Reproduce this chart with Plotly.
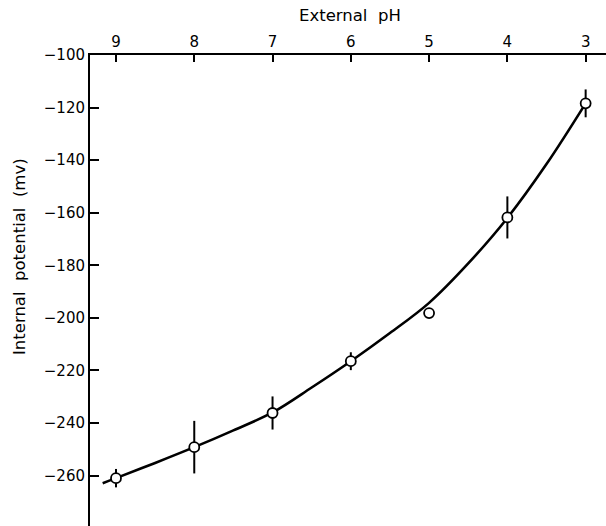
import plotly.graph_objects as go

# Data
ph_points = [9, 8, 7, 6, 5, 4, 3]
potential_mv = [-261, -249.2, -236.2, -216.5, -198.2, -161.8, -118.4]
error_mv = [3.5, 10, 6.3, 3.4, 0, 8, 5.3]

# Fitted curve
curve_ph = [9.17, 9.0, 8.5, 8.0, 7.5, 7.0, 6.5, 6.0, 5.5, 5.0, 4.5, 4.0, 3.5, 3.0]
curve_mv = [-262.9, -261.0, -255.2, -249.2, -242.8, -236.0, -226.5, -216.5, -205.8, -194.3, -179.3, -162.0, -141.5, -118.4]

x_ticks = [9, 8, 7, 6, 5, 4, 3]
y_ticks = [-100, -120, -140, -160, -180, -200, -220, -240, -260]

font_family = "DejaVu Sans"

fig = go.Figure()
fig.add_trace(go.Scatter(
    x=curve_ph, y=curve_mv, mode="lines",
    line=dict(color="black", width=2.6, shape="spline", smoothing=1.0),
    hoverinfo="skip", showlegend=False))
fig.add_trace(go.Scatter(
    x=ph_points, y=potential_mv, mode="markers",
    marker=dict(symbol="circle", size=10, color="white",
                line=dict(color="black", width=1.8)),
    error_y=dict(type="data", array=error_mv, visible=True,
                 color="black", thickness=2, width=0),
    showlegend=False))

fig.update_layout(
    width=606, height=526,
    margin=dict(l=90, r=0, t=55, b=0),
    paper_bgcolor="white", plot_bgcolor="white",
    font=dict(family=font_family, color="black", size=14),
    xaxis=dict(side="top", range=[9.332, 2.74], tickvals=x_ticks,
               ticktext=[str(v) for v in x_ticks],
               ticks="inside", ticklen=7, tickwidth=1.5, tickcolor="black",
               showline=True, linecolor="black", linewidth=2,
               showgrid=False, zeroline=False,
               tickfont=dict(size=15)),
    yaxis=dict(range=[-279.2, -100], tickvals=y_ticks,
               ticks="inside", ticklen=9, tickwidth=1.5, tickcolor="black",
               showline=True, linecolor="black", linewidth=2,
               showgrid=False, zeroline=False,
               tickfont=dict(size=15)),
    annotations=[
        dict(text="External  pH", xref="paper", yref="paper",
             x=0.504, y=1.083, xanchor="center", yanchor="middle",
             showarrow=False, font=dict(size=16.5)),
        dict(text="Internal  potential  (mv)", xref="paper", yref="paper",
             x=-71/516, y=0.571, xanchor="center", yanchor="middle",
             textangle=-90, showarrow=False, font=dict(size=16.5)),
    ],
)

fig.write_html("out.html")
